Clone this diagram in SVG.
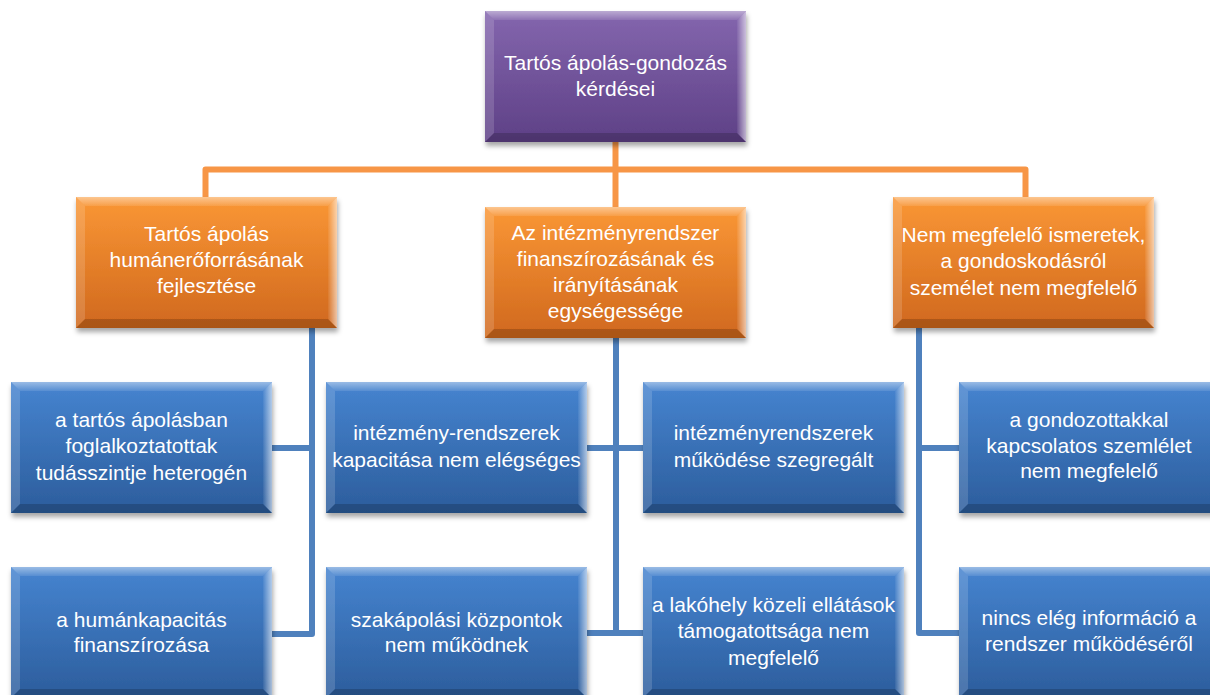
<svg xmlns="http://www.w3.org/2000/svg" xmlns:xlink="http://www.w3.org/1999/xlink" width="1210" height="695" viewBox="0 0 1210 695">
<defs>
<style>
.t{font-family:"Liberation Sans",Arial,sans-serif;font-size:21px;fill:#fff;text-anchor:middle}
.oc{fill:none;stroke:#F79646;stroke-width:6;stroke-linejoin:round}
.bc{fill:none;stroke:#4F81BD;stroke-width:6;stroke-linejoin:round}
.box{filter:url(#sh)}
</style>
<linearGradient id="gP" x1="0" y1="0" x2="0" y2="1"><stop offset="0" stop-color="#8466AE"/><stop offset="1" stop-color="#5E4086"/></linearGradient>
<linearGradient id="gO" x1="0" y1="0" x2="0" y2="1"><stop offset="0" stop-color="#FA9735"/><stop offset="1" stop-color="#D0681E"/></linearGradient>
<linearGradient id="gB" x1="0" y1="0" x2="0" y2="1"><stop offset="0" stop-color="#4684D0"/><stop offset="1" stop-color="#2C5D9C"/></linearGradient>
<linearGradient id="gTop" x1="0" y1="0" x2="0" y2="1"><stop offset="0" stop-color="#fff" stop-opacity="0.45"/><stop offset="1" stop-color="#fff" stop-opacity="0.1"/></linearGradient>
<linearGradient id="gRight" x1="0" y1="0" x2="1" y2="0"><stop offset="0" stop-color="#fff" stop-opacity="0.05"/><stop offset="1" stop-color="#fff" stop-opacity="0.6"/></linearGradient>
<filter id="sh" x="-5%" y="-5%" width="115%" height="120%"><feDropShadow dx="1" dy="4" stdDeviation="2.5" flood-color="#000" flood-opacity="0.35"/></filter>
<g id="bevel">
<polygon points="0,0 261,0 252,9 9,9" fill="url(#gTop)"/>
<polygon points="0,0 9,9 9,122 0,131" fill="#fff" fill-opacity="0.15"/>
<polygon points="261,0 261,131 252,122 252,9" fill="url(#gRight)"/>
<polygon points="0,131 9,122 252,122 261,131" fill="#000" fill-opacity="0.18"/>
</g>
</defs>
<rect width="1210" height="695" fill="#fff"/>
<g id="connectors">
<path class="oc" d="M205.5,197 V169.5 H1025.5 V197"/>
<path class="oc" d="M615.5,142 V207"/>
<path class="bc" d="M312,327 V634 H272 M312,448 H272"/>
<path class="bc" d="M616,337 V634 M587,448 H643 M587,633 H643"/>
<path class="bc" d="M919,327 V633 H959 M919,448 H959"/>
</g>
<g id="n-root">
<rect class="box" x="485" y="11" width="261" height="131" fill="url(#gP)"/>
<use xlink:href="#bevel" x="485" y="11"/>
<text class="t"><tspan x="615.5" y="70">Tartós ápolás-gondozás</tspan><tspan x="615.5" y="96">kérdései</tspan></text>
</g>
<g id="n-o1">
<rect class="box" x="76" y="197" width="261" height="131" fill="url(#gO)"/>
<use xlink:href="#bevel" x="76" y="197"/>
<text class="t"><tspan x="206.5" y="241">Tartós ápolás</tspan><tspan x="206.5" y="267">humánerőforrásának</tspan><tspan x="206.5" y="293">fejlesztése</tspan></text>
</g>
<g id="n-o2">
<rect class="box" x="485" y="207" width="261" height="131" fill="url(#gO)"/>
<use xlink:href="#bevel" x="485" y="207"/>
<text class="t"><tspan x="615.5" y="240">Az intézményrendszer</tspan><tspan x="615.5" y="266">finanszírozásának és</tspan><tspan x="615.5" y="292">irányításának</tspan><tspan x="615.5" y="318">egységessége</tspan></text>
</g>
<g id="n-o3">
<rect class="box" x="893" y="197" width="261" height="131" fill="url(#gO)"/>
<use xlink:href="#bevel" x="893" y="197"/>
<text class="t"><tspan x="1023.5" y="242">Nem megfelelő ismeretek,</tspan><tspan x="1023.5" y="268">a gondoskodásról</tspan><tspan x="1023.5" y="295">személet nem megfelelő</tspan></text>
</g>
<g id="n-b1">
<rect class="box" x="11" y="382" width="261" height="131" fill="url(#gB)"/>
<use xlink:href="#bevel" x="11" y="382"/>
<text class="t"><tspan x="141.5" y="427">a tartós ápolásban</tspan><tspan x="141.5" y="453">foglalkoztatottak</tspan><tspan x="141.5" y="480">tudásszintje heterogén</tspan></text>
</g>
<g id="n-b2">
<rect class="box" x="11" y="567" width="261" height="131" fill="url(#gB)"/>
<use xlink:href="#bevel" x="11" y="567"/>
<text class="t"><tspan x="141.5" y="627">a humánkapacitás</tspan><tspan x="141.5" y="652">finanszírozása</tspan></text>
</g>
<g id="n-b3">
<rect class="box" x="326" y="382" width="261" height="131" fill="url(#gB)"/>
<use xlink:href="#bevel" x="326" y="382"/>
<text class="t"><tspan x="456.5" y="440">intézmény-rendszerek</tspan><tspan x="456.5" y="467">kapacitása nem elégséges</tspan></text>
</g>
<g id="n-b4">
<rect class="box" x="326" y="567" width="261" height="131" fill="url(#gB)"/>
<use xlink:href="#bevel" x="326" y="567"/>
<text class="t"><tspan x="456.5" y="627">szakápolási központok</tspan><tspan x="456.5" y="652">nem működnek</tspan></text>
</g>
<g id="n-b5">
<rect class="box" x="643" y="382" width="261" height="131" fill="url(#gB)"/>
<use xlink:href="#bevel" x="643" y="382"/>
<text class="t"><tspan x="773.5" y="440">intézményrendszerek</tspan><tspan x="773.5" y="467">működése szegregált</tspan></text>
</g>
<g id="n-b6">
<rect class="box" x="643" y="567" width="261" height="131" fill="url(#gB)"/>
<use xlink:href="#bevel" x="643" y="567"/>
<text class="t"><tspan x="773.5" y="612">a lakóhely közeli ellátások</tspan><tspan x="773.5" y="638">támogatottsága nem</tspan><tspan x="773.5" y="665">megfelelő</tspan></text>
</g>
<g id="n-b7">
<rect class="box" x="959" y="382" width="261" height="131" fill="url(#gB)"/>
<use xlink:href="#bevel" x="959" y="382"/>
<text class="t"><tspan x="1089" y="427">a gondozottakkal</tspan><tspan x="1089" y="453">kapcsolatos szemlélet</tspan><tspan x="1089" y="478">nem megfelelő</tspan></text>
</g>
<g id="n-b8">
<rect class="box" x="959" y="567" width="261" height="131" fill="url(#gB)"/>
<use xlink:href="#bevel" x="959" y="567"/>
<text class="t"><tspan x="1089" y="625">nincs elég információ a</tspan><tspan x="1089" y="651">rendszer működéséről</tspan></text>
</g>
</svg>
